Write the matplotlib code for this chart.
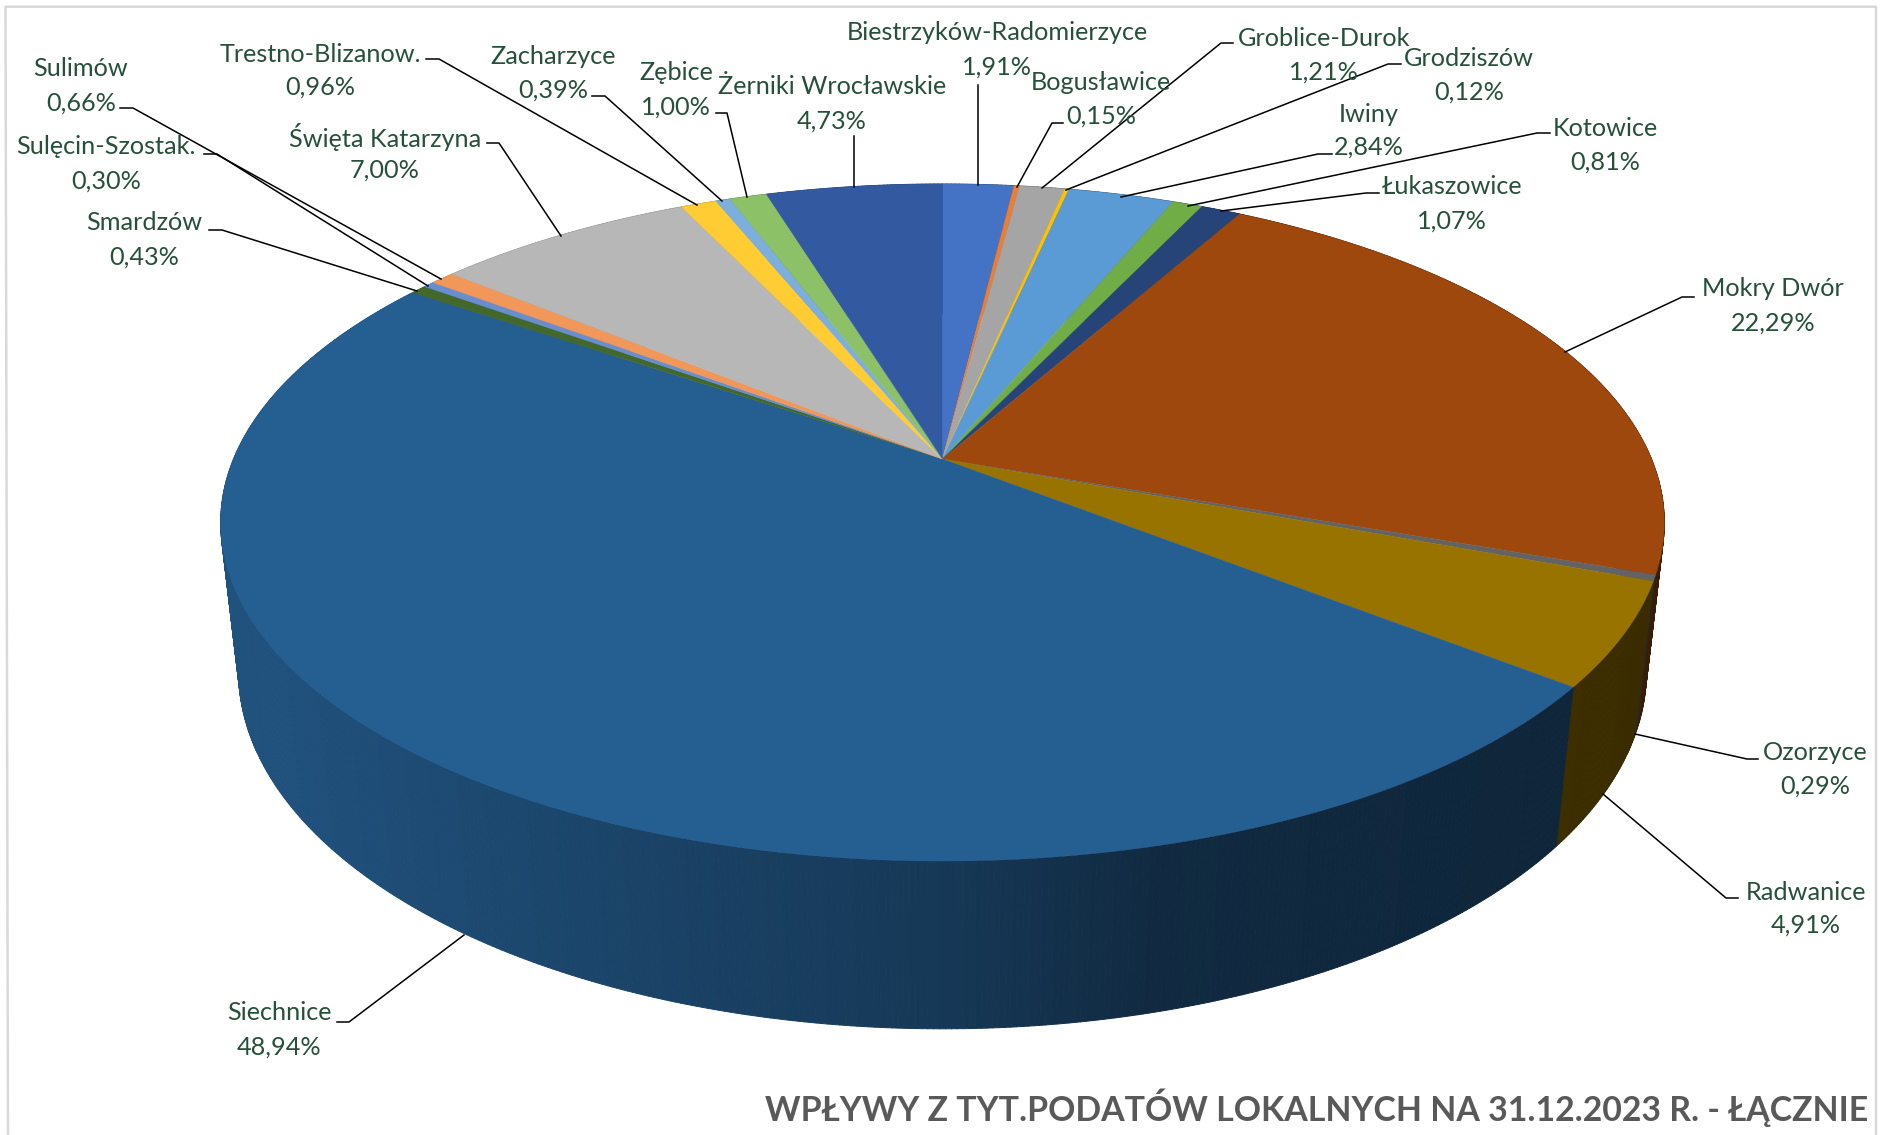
import numpy as np
import matplotlib
matplotlib.use("Agg")
import matplotlib.pyplot as plt
from matplotlib.collections import PolyCollection
from matplotlib.colors import to_rgb

names = ["Biestrzyków-Radomierzyce", "Bogusławice", "Groblice-Durok", "Grodziszów", "Iwiny",
         "Kotowice", "Łukaszowice", "Mokry Dwór", "Ozorzyce", "Radwanice", "Siechnice",
         "Smardzów", "Sulęcin-Szostak.", "Sulimów", "Święta Katarzyna", "Trestno-Blizanow.",
         "Zacharzyce", "Zębice", "Żerniki Wrocławskie"]
shares = [1.91, 0.15, 1.21, 0.12, 2.84, 0.81, 1.07, 22.29, 0.29, 4.91, 48.94,
          0.43, 0.30, 0.66, 7.00, 0.96, 0.39, 1.00, 4.73]
colors = ["#4472C4", "#ED7D31", "#A5A5A5", "#FFC000", "#5B9BD5", "#70AD47", "#264478",
          "#9E480E", "#636363", "#997300", "#255E91", "#43682B", "#698ED0", "#F1975A",
          "#B7B7B7", "#FFCD33", "#7CAFDD", "#8CC168", "#335AA1"]
title = "WPŁYWY Z TYT.PODATÓW LOKALNYCH NA 31.12.2023 R. - ŁĄCZNIE"

# layout only: label centre (x, first line y, second line y)
label_pos = [(997, 33, 67), (1101, 83, 116), (1324, 38, 72), (1469, 59, 92), (1369, 114, 147),
             (1605, 128, 162), (1452, 187, 221), (1773, 289, 323), (1815, 752, 786),
             (1806, 892, 925), (279, 1013, 1047), (144, 223, 257), (106, 147, 181),
             (81, 69, 103), (385, 137, 170), (320, 54, 87), (553, 56, 90), (676, 73, 107),
             (832, 87, 121)]
leaders = [[(978, 85), (978, 185)], [(1063, 123), (1052, 123), (1017, 187)],
           [(1233, 43), (1221, 43), (1042, 188)], [(1401, 64), (1388, 64), (1066, 190)],
           [(1332, 154), (1318, 154), (1121, 197)], [(1550, 133), (1537, 133), (1188, 206)],
           [(1379, 193), (1366, 193), (1221, 211)], [(1694, 297), (1682, 297), (1565, 352)],
           [(1758, 759), (1747, 759), (1635, 734)], [(1738, 898), (1726, 898), (1603, 794)],
           [(337, 1022), (349, 1022), (464, 935)], [(209, 230), (222, 230), (417, 291)],
           [(204, 154), (217, 154), (428, 286)], [(120, 108), (133, 108), (441, 279)],
           [(487, 143), (499, 143), (561, 236)], [(426, 59), (439, 59), (697, 205)],
           [(592, 96), (605, 96), (722, 201)], [(716, 113), (727, 113), (747, 197)],
           [(854, 136), (854, 187)]]

CX, CY = 942.5, 459.0
A, B, K = 326.6, 709.0, 0.1876
VPY, DEPTH = 6570.0, 0.0246


def project(theta, z=0.0):
    u, v = np.sin(theta), np.cos(theta)
    w = 1 + K * v + z
    x = CX + B * u / w
    y = (CY * (1 + K * v) - A * v + z * VPY) / w
    return x, y


def shade(c, x):
    f = np.interp(x, [240, 460, 940, 1150, 1560, 1660], [0.87, 0.78, 0.6, 0.45, 0.4, 0.38])
    return tuple(np.array(to_rgb(c)) * f)


fig = plt.figure(figsize=(18.85, 11.35), dpi=100)
ax = fig.add_axes([0, 0, 1, 1])
ax.set_xlim(0, 1885)
ax.set_ylim(1135, 0)
ax.axis("off")

ax.plot([8, 5.5, 1876, 1876], [1135, 6.7, 6.7, 1135], color="#D9D9D9", lw=1.8, zorder=0)

edges = np.concatenate([[0], np.cumsum(shares)]) / np.sum(shares) * 2 * np.pi

# side wall, back to front
segs = []
for i, c in enumerate(colors):
    n = max(2, int((edges[i + 1] - edges[i]) / np.radians(0.4)))
    t = np.linspace(edges[i], edges[i + 1], n + 1)
    for t0, t1 in zip(t[:-1], t[1:]):
        x0, y0 = project(t0)
        x1, y1 = project(t1)
        x2, y2 = project(t1, DEPTH)
        x3, y3 = project(t0, DEPTH)
        segs.append((np.cos((t0 + t1) / 2), [(x0, y0), (x1, y1), (x2, y2), (x3, y3)],
                     shade(c, (x0 + x1) / 2)))
segs.sort(key=lambda s: -s[0])
fc = [s[2] for s in segs]
ax.add_collection(PolyCollection([s[1] for s in segs], facecolors=fc, edgecolors=fc,
                                 linewidths=0.7, zorder=1))

# top face
for i, c in enumerate(colors):
    n = max(2, int((edges[i + 1] - edges[i]) / np.radians(0.25)))
    t = np.linspace(edges[i], edges[i + 1], n + 1)
    xs, ys = project(t)
    ax.fill(np.r_[CX, xs], np.r_[CY, ys], facecolor=c, edgecolor=c, lw=0.3, zorder=2)

# leaders and labels
for name, val, lp, pts in zip(names, shares, label_pos, leaders):
    px, py = zip(*pts)
    ax.plot(px, py, color="black", lw=1.1, zorder=3, solid_joinstyle="round")
    pct = f"{val:.2f}%".replace(".", ",")
    for txt, y in ((name, lp[1]), (pct, lp[2])):
        ax.text(lp[0], y, txt, ha="center", va="center", family="Lato", fontsize=18.2,
                color="#27503A", zorder=4)

ax.text(1868, 1108, title, ha="right", va="center", family="Lato", weight="bold",
        fontsize=24.4, color="#595959", zorder=4)

fig.savefig("out.png", dpi=100)
